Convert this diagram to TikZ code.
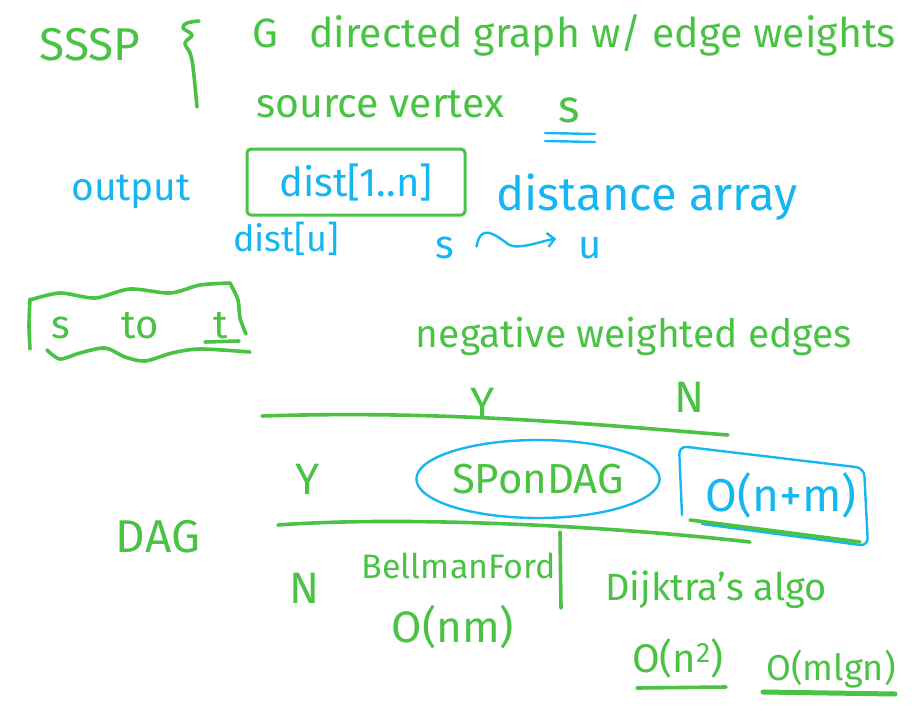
\documentclass[tikz,border=0pt]{standalone}
\usepackage{amsmath,amssymb}
\usepackage{fontspec}
\setmainfont{Fira Sans}
\usetikzlibrary{arrows.meta,calc,shapes.geometric}
\definecolor{pengreen}{RGB}{74,194,68}
\definecolor{pencyan}{RGB}{22,182,240}
\tikzset{
  hw/.style={font=\fontsize{#1}{#1}\selectfont},
  gtxt/.style={text=pengreen,inner sep=0pt,anchor=base},
  ctxt/.style={text=pencyan,inner sep=0pt,anchor=base},
  ink/.style={draw=pengreen,line width=3.6pt,line cap=round,line join=round},
  cink/.style={draw=pencyan,line width=2.4pt,line cap=round,line join=round},
}

\begin{document}
\begin{tikzpicture}[x=1pt,y=-1pt]
\useasboundingbox (0,0) rectangle (924,715);
% problem statement
\node[gtxt,hw=46] (sssp) at (90,60) {SSSP};
\draw[ink] plot[smooth,tension=0.6] coordinates {(199,21) (187,23) (183,28) (192,35) (185,43) (190,53) (193,67) (197,107)};
\node[gtxt,hw=41] (graph) at (574,47) {G\hspace{0.5em} directed graph w/ edge weights};
\node[gtxt,hw=41] (source) at (380,117) {source vertex};
\node[gtxt,hw=46] (srcs) at (569,122) {s};
\draw[cink] ($(srcs.base)+(-24,11)$) -- ++(50,1);
\draw[cink] ($(srcs.base)+(-24,19)$) -- ++(50,1);
% output
\node[ctxt,hw=39] (output) at (131,200) {output};
\node[ctxt,hw=40,anchor=center,draw=pengreen,line width=3pt,rounded corners=4pt,
      minimum width=218pt,minimum height=66pt] (distarr) at (356,182) {dist[1..n]};
\node[ctxt,hw=47] (darray) at (647,210) {distance array};
\node[ctxt,hw=36] (distu) at (286,251) {dist[u]};
\node[ctxt,hw=40] (ps) at (445,258) {s};
\node[ctxt,hw=40] (pu) at (590,258) {u};
\draw[cink,-{Straight Barb[length=7pt,width=14pt]}] ($(ps.east)+(22,-1)$)
  .. controls ++(4,-22) and ++(-16,-12) .. ($(ps.east)+(54,-3)$)
  .. controls ++(10,6) and ++(-14,2) .. ($(pu.west)+(-22,-9)$);
% s to t
\node[gtxt,hw=40] (st-s) at (61,338) {s};
\node[gtxt,hw=40] (st-to) at (140,338) {to};
\node[gtxt,hw=40] (st-t) at (221,338) {t};
\draw[ink] ($(st-t.base)+(-16,4)$) -- ++(34,-1);
\draw[ink] plot[smooth] coordinates {(30,300) (60,293) (95,298) (130,289) (170,293) (200,285) (230,283)};
\draw[ink] plot[smooth] coordinates {(230,283) (238,300) (240,318) (246,334)};
\draw[ink] plot[smooth] coordinates {(47,350) (60,359) (80,353) (105,348) (125,357) (145,361) (172,353) (200,349) (250,352)};
\draw[ink] plot[smooth] coordinates {(30,299) (29,325) (30,349)};
% table
\node[gtxt,hw=39] (negw) at (634,347) {negative weighted edges};
\node[gtxt,hw=44] (colY) at (483,418) {Y};
\node[gtxt,hw=44] (colN) at (690,412) {N};
\draw[ink] (262,416) .. controls (450,410) and (600,425) .. (728,435);
\node[gtxt,hw=44] (rowY) at (308,494) {Y};
\node[gtxt,hw=46] (dag) at (158,552) {DAG};
\node[gtxt,hw=44] (rowN) at (305,603) {N};
\node[gtxt,hw=42,anchor=center,ellipse,draw=pencyan,line width=2.4pt,
      minimum width=230pt,minimum height=78pt] (spdag) at (538,479) {SPonDAG};
\node[ctxt,hw=46] (onm) at (781,511) {O(n+m)};
\draw[cink,rounded corners=8pt] (682,515) -- (679,446) -- (864,468) -- (868,546)
  -- (702,524);
\draw[ink] (278,525) .. controls (400,516) and (600,525) .. (750,542);
\draw[ink] (690,520) -- (860,542);
\node[gtxt,hw=34] (bford) at (459,578) {BellmanFord};
\node[gtxt,hw=44] (onmb) at (453,642) {O(nm)};
\draw[ink] (560,532) -- (561,608);
\node[gtxt,hw=38] (dijk) at (716,600) {Dijktra's algo};
\node[gtxt,hw=40] (osq) at (678,672) {O(n\textsuperscript{2})};
\node[gtxt,hw=36] (omlg) at (831,680) {O(mlgn)};
\draw[ink] ($(osq.base)+(-41,16)$) -- ++(89,-1);
\draw[ink,line width=5pt] ($(omlg.base)+(-68,12)$) -- ++(132,2);
\end{tikzpicture}
\end{document}
